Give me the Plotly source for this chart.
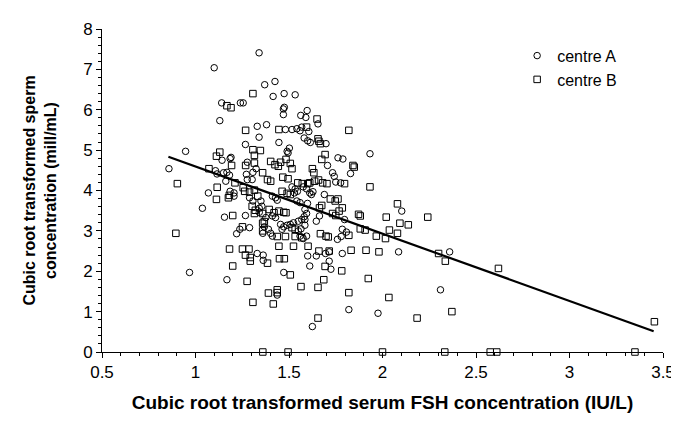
import plotly.graph_objects as go

# centre A (open circles): cubic-root FSH, cubic-root sperm concentration
a_x = [1.10, 1.34, 1.37, 1.14, 1.24, 1.255, 1.13, 1.33, 1.34, 1.38,
       1.425, 1.415, 1.474, 1.533, 1.47, 1.475, 1.47, 1.597, 1.563, 1.59, 1.655,
       1.481, 1.516, 1.542, 1.559, 1.568, 1.606, 1.581,
       0.947, 0.858, 1.267, 1.185, 1.19, 1.142, 1.277, 1.107, 1.115, 1.15, 1.168,
       1.182, 1.162, 1.272, 1.307, 1.324, 1.277, 1.303, 1.069, 1.185, 1.206, 1.206,
       1.289, 1.307, 1.35, 1.355, 1.037, 1.341, 1.341, 1.155, 1.267, 1.289, 1.237,
       1.22, 1.368, 1.36,
       1.446, 1.60, 1.614, 1.698, 1.502, 1.49, 1.495, 1.762, 1.788, 1.933, 1.706,
       1.733, 1.742, 1.829, 1.75, 1.776, 1.516, 1.533, 1.529, 1.545, 1.576, 1.594,
       1.611, 1.628, 1.62, 1.411, 1.428, 1.437, 1.689, 1.542, 1.559, 1.599, 1.663,
       1.646, 1.585, 1.594, 1.581, 1.585, 1.55, 1.568, 1.524, 1.797, 1.455, 1.472,
       1.463, 1.49, 1.507, 1.585, 1.564, 1.55, 1.785, 1.807, 1.759, 1.779, 1.376,
       1.411, 1.428, 1.39, 1.402, 1.411, 1.559, 1.576, 1.594,
       2.103, 1.33, 1.362, 1.362, 0.968, 1.168,
       1.60, 1.646, 1.695, 1.715, 1.785, 1.715, 1.611, 1.724, 1.472, 1.437, 1.82,
       1.976, 1.625, 2.086, 2.359, 2.31]
a_y = [7.04, 7.41, 6.62, 6.17, 6.17, 6.17, 5.73, 5.59, 5.32, 5.63,
       6.70, 6.33, 6.40, 6.37, 6.02, 6.06, 5.88, 5.98, 5.86, 5.81, 5.65,
       5.51, 5.51, 5.53, 5.48, 5.57, 5.46, 5.30,
       4.97, 4.54, 5.14, 4.79, 4.82, 4.75, 4.70, 4.49, 4.41, 4.44, 4.45,
       4.38, 4.23, 4.40, 4.45, 4.54, 4.27, 4.27, 3.94, 3.98, 3.94, 3.86,
       3.82, 3.74, 3.74, 3.61, 3.56, 3.56, 3.46, 3.34, 3.38, 3.08, 3.04,
       2.93, 3.10, 2.94,
       5.19, 5.23, 5.19, 5.16, 5.05, 4.97, 4.93, 4.81, 4.78, 4.91, 4.62,
       4.44, 4.35, 4.42, 4.21, 4.19, 4.09, 4.04, 3.94, 3.98, 4.09, 4.04,
       3.94, 3.97, 3.90, 3.86, 3.82, 3.76, 3.90, 3.74, 3.70, 3.68, 3.37,
       3.24, 3.53, 3.43, 3.35, 3.28, 3.24, 3.28, 3.20, 3.28, 3.16, 3.10,
       3.04, 3.14, 3.16, 3.14, 3.05, 3.00, 3.04, 2.97, 2.79, 2.86, 3.33,
       3.37, 3.33, 3.04, 2.94, 2.87, 2.87, 2.81, 2.87,
       3.49, 2.44, 2.40, 2.27, 1.97, 1.79,
       2.38, 2.38, 2.44, 2.48, 2.44, 2.25, 2.13, 2.05, 1.97, 1.41, 1.05,
       0.96, 0.63, 2.48, 2.48, 1.54]

# centre B (open squares)
b_x = [1.307, 1.168, 1.19, 1.268,
       1.65, 1.446, 1.594, 1.82, 1.655,
       0.903, 1.307, 1.347, 1.315, 1.13, 1.112, 1.193, 1.268, 1.315, 1.072, 1.359,
       1.211, 1.116, 1.112, 1.176, 1.181, 1.255, 1.263, 1.289, 1.315, 1.333, 1.303,
       1.32, 1.315, 1.359, 1.199, 1.359, 1.368, 1.251, 1.359, 0.895, 1.182, 1.251,
       1.286,
       1.66, 1.668, 1.693, 1.675, 1.402, 1.455, 1.443, 1.425, 1.484, 1.507, 1.516,
       1.842, 1.849, 1.625, 1.633, 1.385, 1.402, 1.467, 1.495, 1.547, 1.571, 1.60,
       1.611, 1.637, 1.658, 1.68, 1.703, 1.797, 1.933, 1.463, 1.49, 1.507, 1.721,
       1.747, 1.762, 1.675, 1.663, 1.785, 1.768, 1.733, 1.75, 1.394, 1.42, 1.446,
       1.472, 1.484, 1.872, 1.881, 1.516, 1.533, 1.881, 1.907, 1.967, 1.668, 1.698,
       1.71, 1.82, 1.437, 1.481, 1.533, 1.568, 1.446, 1.524, 1.602,
       2.08, 2.02, 2.242, 2.093, 2.138, 2.037, 2.08, 2.016,
       1.267, 1.293, 1.293, 1.199, 1.276, 1.307, 1.36,
       1.449, 1.475, 1.385, 1.66, 1.715, 1.832, 1.912, 1.981, 1.693, 1.782, 1.507,
       1.924, 1.686, 1.564, 1.655, 1.39, 1.437, 1.437, 1.82, 1.416, 1.655, 1.495,
       2.30, 2.336, 2.62, 2.034, 2.185, 2.371, 3.454, 2.0, 2.333, 2.576, 2.611, 3.35]
b_y = [6.40, 6.10, 6.05, 5.49,
       5.77, 5.51, 5.57, 5.49, 5.28,
       4.17, 5.01, 4.99, 4.87, 4.95, 4.85, 4.62, 4.62, 4.68, 4.54, 4.44,
       4.19, 4.08, 3.78, 3.82, 3.88, 4.07, 3.98, 3.96, 4.01, 3.86, 3.61,
       3.51, 3.43, 3.43, 3.38, 3.19, 3.23, 3.10, 3.00, 2.94, 2.55, 2.55,
       2.55,
       5.22, 5.16, 4.89, 4.77, 4.72, 4.70, 4.60, 4.64, 4.77, 4.67, 4.54,
       4.62, 4.58, 4.54, 4.44, 4.27, 4.23, 4.33, 4.29, 4.19, 4.17, 4.17,
       4.19, 4.23, 4.26, 4.19, 4.17, 4.17, 4.09, 3.98, 3.93, 3.90, 3.79,
       3.74, 3.79, 3.63, 3.57, 3.57, 3.49, 3.43, 3.38, 3.53, 3.45, 3.49,
       3.46, 3.45, 3.41, 3.37, 3.08, 3.04, 3.05, 3.02, 2.87, 2.93, 2.87,
       2.85, 2.89, 2.86, 2.86, 2.86, 2.83, 2.62, 2.62, 2.62,
       3.67, 3.34, 3.34, 3.19, 3.15, 3.02, 2.94, 2.81,
       2.40, 2.34, 2.25, 2.13, 1.75, 1.23, 0.0,
       2.31, 2.31, 2.20, 2.50, 2.50, 2.52, 2.52, 2.48, 2.12, 2.01, 1.91,
       1.82, 1.79, 1.62, 1.60, 1.46, 1.54, 1.47, 1.47, 1.19, 0.84, 0.0,
       2.44, 2.25, 2.07, 1.35, 0.84, 1.00, 0.75, 0.0, 0.0, 0.0, 0.0, 0.0]

# regression line
fit_intercept = 6.26
fit_slope = -1.665
fit_x = [0.855, 3.45]

x_ticks = [0.5, 1, 1.5, 2, 2.5, 3, 3.5]
y_ticks = [0, 1, 2, 3, 4, 5, 6, 7, 8]

FONT = "Liberation Sans, Arial, Helvetica, sans-serif"

fig = go.Figure()
fig.add_trace(go.Scatter(
    x=a_x, y=a_y, mode="markers", name="centre A",
    marker=dict(symbol="circle-open", size=6.5, color="black", line=dict(width=1, color="black")),
    cliponaxis=False))
fig.add_trace(go.Scatter(
    x=b_x, y=b_y, mode="markers", name="centre B",
    marker=dict(symbol="square-open", size=6.5, color="black", line=dict(width=1, color="black")),
    cliponaxis=False))
fig.add_trace(go.Scatter(
    x=fit_x, y=[fit_intercept + fit_slope * v for v in fit_x], mode="lines",
    line=dict(color="black", width=2.2), showlegend=False, hoverinfo="skip"))

fig.update_layout(
    width=679, height=421,
    margin=dict(l=94, r=12, t=19, b=77),
    paper_bgcolor="white", plot_bgcolor="white",
    font=dict(family=FONT, size=17, color="black"),
    showlegend=True,
    legend=dict(x=0.74, y=0.97, xanchor="left", yanchor="top",
                font=dict(size=16), bgcolor="rgba(0,0,0,0)",
                itemwidth=30, tracegroupgap=0),
    xaxis=dict(
        range=[0.5, 3.5], tickvals=x_ticks, ticktext=[str(v) for v in x_ticks],
        showgrid=False, zeroline=False, showline=True, linecolor="black", linewidth=1,
        ticks="outside", ticklen=5, tickcolor="black", tickfont=dict(size=17),
        minor=dict(dtick=0.1, ticks="outside", ticklen=3, tickcolor="black", showgrid=False),
        title=dict(text="<b>Cubic root transformed serum FSH concentration (IU/L)</b>",
                   font=dict(size=19), standoff=14),
    ),
    yaxis=dict(
        range=[0, 8], tickvals=y_ticks,
        showgrid=False, zeroline=False, showline=True, linecolor="black", linewidth=1,
        ticks="outside", ticklen=5, tickcolor="black", tickfont=dict(size=17),
        minor=dict(dtick=0.2, ticks="outside", ticklen=3, tickcolor="black", showgrid=False),
        title=dict(text="<b>Cubic root transformed sperm<br>concentration (mill/mL)</b>",
                   font=dict(size=16), standoff=22),
    ),
)

fig.write_html("out.html")
